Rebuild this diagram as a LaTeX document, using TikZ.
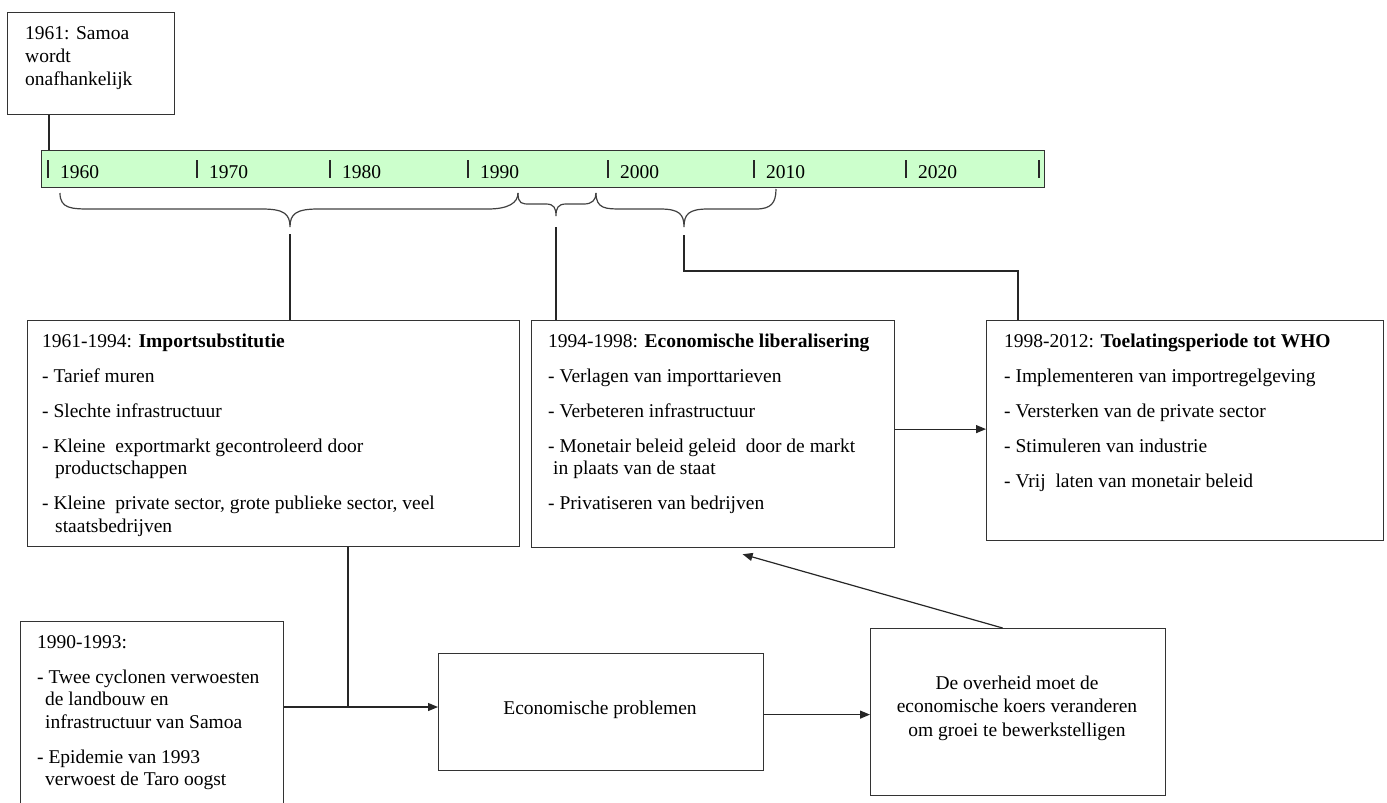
\documentclass[tikz,border=0pt]{standalone}
\usepackage{fontspec}
\setmainfont{Liberation Serif}
\usetikzlibrary{arrows.meta}
\newcommand\fs{\fontsize{19.5}{22.5}\selectfont}
\tikzset{
 box/.style={draw=black!80, line width=1.2pt, anchor=north west, inner sep=0pt},
 txt/.style={anchor=base west, inner sep=0pt},
 conn/.style={draw=black!85, line width=1.2pt},
 arr/.style={conn, -{Triangle[length=10pt,width=8pt]}},
 brace/.style={draw=black!75, line width=1.2pt},
 yrtick/.style={draw=black!85, line width=1.6pt},
 yr/.style={anchor=base west, inner sep=0pt, font=\fs},
}
\begin{document}
\begin{tikzpicture}[x=1pt,y=-1pt]
\useasboundingbox (0,0) rectangle (1387,803);
\clip (0,0) rectangle (1387,803);

% boxes
\node[box, minimum width=167pt, minimum height=102pt] (top) at (7,12) {};
\node[box, fill={rgb,255:red,204;green,255;blue,204}, minimum width=1003pt, minimum height=37pt] (tl) at (41,150) {};
\node[box, minimum width=492pt, minimum height=226pt] (b1) at (27,320) {};
\node[box, minimum width=363pt, minimum height=227pt] (b2) at (531,320) {};
\node[box, minimum width=397pt, minimum height=220pt] (b3) at (986,320) {};
\node[box, minimum width=263pt, minimum height=215pt] (b4) at (20,621) {};
\node[box, minimum width=325pt, minimum height=117pt] (eco) at (438,653) {};
\node[box, minimum width=295pt, minimum height=167pt] (gov) at (870,628) {};

% texts
\node[txt] (toptxt) at (25,39) {\begin{minipage}[t]{150pt}\fontsize{19.5}{23}\selectfont 1961: Samoa\\wordt\\onafhankelijk\end{minipage}};

\node[txt] (b1txt) at (42,347) {\begin{minipage}[t]{470pt}\fs 1961-1994: \textbf{Importsubstitutie}\\[12.5pt]- Tarief muren\\[12.5pt]- Slechte infrastructuur\\[12.5pt]- Kleine~ exportmarkt gecontroleerd door\\\hspace*{13pt}productschappen\\[12.5pt]- Kleine~ private sector, grote publieke sector, veel\\\hspace*{13pt}staatsbedrijven\end{minipage}};

\node[txt] (b2txt) at (548,347) {\begin{minipage}[t]{340pt}\fs 1994-1998: \textbf{Economische liberalisering}\\[12.5pt]- Verlagen van importtarieven\\[12.5pt]- Verbeteren infrastructuur\\[12.5pt]- Monetair beleid geleid~ door de markt\\\hspace*{5pt}in plaats van de staat\\[12.5pt]- Privatiseren van bedrijven\end{minipage}};

\node[txt] (b3txt) at (1004,347) {\begin{minipage}[t]{370pt}\fs 1998-2012: \textbf{Toelatingsperiode tot WHO}\\[12.5pt]- Implementeren van importregelgeving\\[12.5pt]- Versterken van de private sector\\[12.5pt]- Stimuleren van industrie\\[12.5pt]- Vrij~ laten van monetair beleid\end{minipage}};

\node[txt] (b4txt) at (37,648) {\begin{minipage}[t]{240pt}\fs 1990-1993:\\[12.5pt]- Twee cyclonen verwoesten\\\hspace*{8pt}de landbouw en\\\hspace*{8pt}infrastructuur van Samoa\\[12.5pt]- Epidemie van 1993\\\hspace*{8pt}verwoest de Taro oogst\end{minipage}};

\node[anchor=base, inner sep=0pt, font=\fs] (ecotxt) at (600,714) {Economische problemen};

\node[anchor=base, inner sep=0pt] (govtxt) at (1017,689) {\begin{minipage}[t]{290pt}\centering\fontsize{19.5}{23.5}\selectfont De overheid moet de\\economische koers veranderen\\om groei te bewerkstelligen\end{minipage}};

% timeline ticks and years
\foreach \x/\y in {48/1960,197/1970,330/1980,468/1990,608/2000,754/2010,906/2020}{
  \draw[yrtick] (\x,160) -- (\x,178);
  \node[yr] (y\y) at (\x+12,178) {\y};
}
\draw[yrtick] (1039,160) -- (1039,178);

% braces
\draw[brace] (60,193) .. controls (60,209) and (72,209) .. (92,209) -- (262,209) .. controls (284,209) and (290,214) .. (290,227) .. controls (290,214) and (296,209) .. (318,209) -- (488,209) .. controls (508,209) and (518,203) .. (518,193);
\draw[brace] (518,193) .. controls (518,204) and (522,204) .. (530,204) -- (546,204) .. controls (554,204) and (556,208) .. (556,216) .. controls (556,208) and (558,204) .. (566,204) -- (584,204) .. controls (592,204) and (596,200) .. (596,193);
\draw[brace] (596,193) .. controls (596,209) and (606,209) .. (622,209) -- (660,209) .. controls (679,209) and (684,214) .. (684,227) .. controls (684,214) and (689,209) .. (708,209) -- (756,209) .. controls (771,209) and (776,203) .. (776,189);

% connectors
\coordinate (c0) at ([xshift=42pt]top.south west);
\draw[conn] (c0) -- (c0 |- tl.north);

\coordinate (t1) at (290,234);
\draw[conn] (t1) -- (t1 |- b1.north);
\coordinate (t2) at (556,227);
\draw[conn] (t2) -- (t2 |- b2.north);
\coordinate (t3) at (684,235);
\coordinate (k3) at (1018,271);
\draw[conn] (t3) |- (k3) -- (k3 |- b3.north);

\coordinate (e2) at ([yshift=5pt]b2.east);
\draw[arr] (e2) -- (e2 -| b3.west);

\coordinate (j) at (348,707);
\draw[conn] (j |- b1.south) -- (j);
\draw[arr] (b4.east |- j) -- (eco.west |- j);

\coordinate (e5) at ([yshift=-2.5pt]eco.east);
\draw[arr] (e5) -- (e5 -| gov.west);

\draw[arr] ([xshift=-15.5pt]gov.north) -- ([xshift=29.5pt,yshift=-6pt]b2.south);
\end{tikzpicture}
\end{document}
